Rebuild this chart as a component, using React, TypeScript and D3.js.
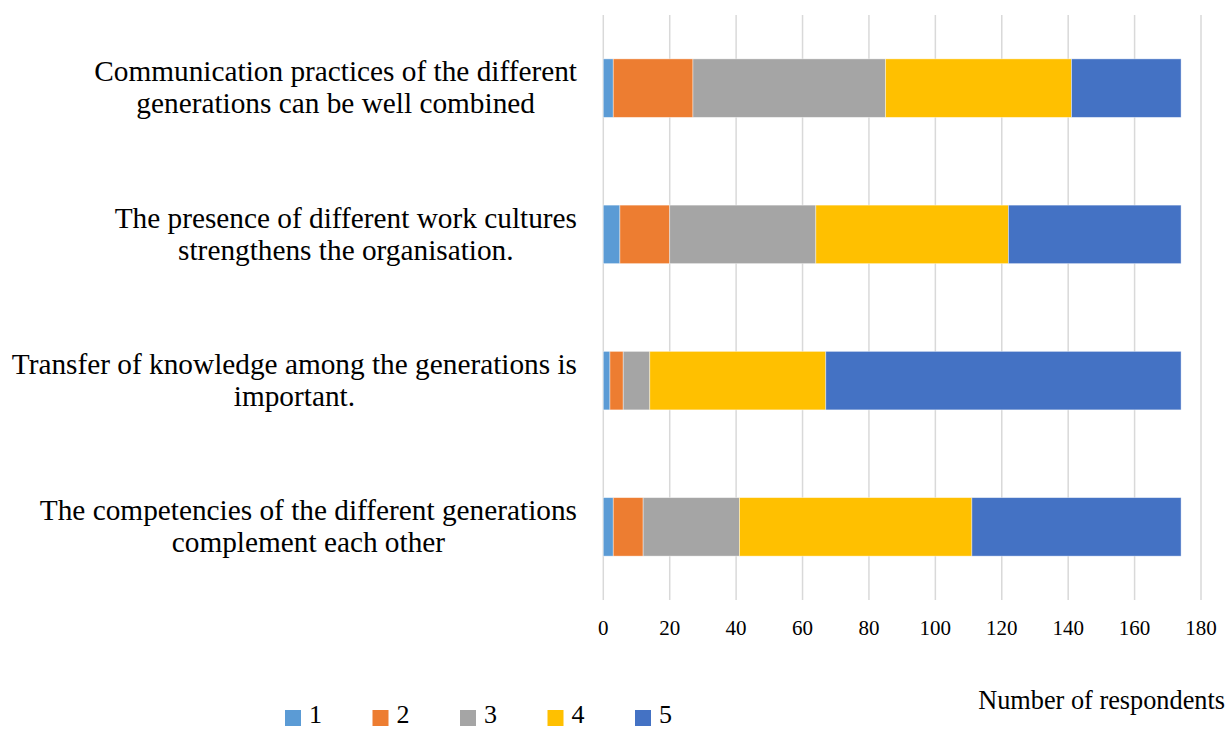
import React, { useEffect, useRef } from "react";
import * as d3 from "d3";

// statements, top to bottom; each entry is the wrapped lines of the label
const statements = [
  ["Communication practices of the different", "generations can be well combined"],
  ["The presence of different work cultures", "strengthens the organisation."],
  ["Transfer of knowledge among the generations is", "important."],
  ["The competencies of the different generations", "complement each other"],
];

const ratings = ["1", "2", "3", "4", "5"];

// respondents per rating, same order as statements
const rating1 = [3, 5, 2, 3];
const rating2 = [24, 15, 4, 9];
const rating3 = [58, 44, 8, 29];
const rating4 = [56, 58, 53, 70];
const rating5 = [33, 52, 107, 63];

const xTicks = [0, 20, 40, 60, 80, 100, 120, 140, 160, 180];
const axisTitle = "Number of respondents";

const colors = ["#5B9BD5", "#ED7D31", "#A5A5A5", "#FFC000", "#4472C4"];

export default function App() {
  const svgRef = useRef<SVGSVGElement>(null);

  useEffect(() => {
    const svg = d3.select(svgRef.current);
    svg.selectAll("*").remove();

    const font = "'Liberation Serif', 'Times New Roman', serif";
    const seriesValues = [rating1, rating2, rating3, rating4, rating5];
    const rows = statements.map((_, i) => {
      const row: any = { key: String(i) };
      ratings.forEach((r, j) => (row[r] = seriesValues[j][i]));
      return row;
    });
    const stacked = d3.stack().keys(ratings)(rows);

    const x = d3.scaleLinear().domain([0, 180]).range([603.3, 1201]);
    const y = d3
      .scaleBand()
      .domain(statements.map((_, i) => String(i)))
      .range([15, 600])
      .paddingInner(0.6)
      .paddingOuter(0.3);

    // --- GRIDLINES ---
    svg
      .append("g")
      .selectAll("line")
      .data(xTicks)
      .join("line")
      .attr("x1", (d) => x(d))
      .attr("x2", (d) => x(d))
      .attr("y1", 15)
      .attr("y2", 600)
      .attr("stroke", "#D9D9D9")
      .attr("stroke-width", 1.5);

    // --- BARS ---
    svg
      .append("g")
      .selectAll("g")
      .data(stacked)
      .join("g")
      .attr("fill", (_, i) => colors[i])
      .selectAll("rect")
      .data((s) => s.map((d, i) => ({ d, i })))
      .join("rect")
      .attr("x", (p) => x(p.d[0]))
      .attr("width", (p) => x(p.d[1]) - x(p.d[0]))
      .attr("y", (p) => y(String(p.i))!)
      .attr("height", y.bandwidth())
      .attr("stroke", "rgba(255,255,255,0.5)")
      .attr("stroke-width", 0.8);

    // --- TICK LABELS ---
    svg
      .append("g")
      .selectAll("text")
      .data(xTicks)
      .join("text")
      .attr("x", (d) => x(d))
      .attr("y", 628)
      .attr("dy", "0.35em")
      .attr("text-anchor", "middle")
      .style("font-family", font)
      .style("font-size", "21px")
      .style("fill", "#000")
      .text((d) => d);

    // --- CATEGORY LABELS (lines centred, block right-aligned) ---
    const labelRight = 577;
    const lineGap = 32;
    statements.forEach((lines, i) => {
      const cy = y(String(i))! + y.bandwidth() / 2;
      const g = svg.append("g");
      const texts = g
        .selectAll("text")
        .data(lines)
        .join("text")
        .attr("y", (_, k) => cy + (k - (lines.length - 1) / 2) * lineGap - 1)
        .attr("dy", "0.35em")
        .attr("text-anchor", "middle")
        .style("font-family", font)
        .style("font-size", "29.3px")
        .style("fill", "#000")
        .text((d) => d);
      let maxW = 0;
      texts.each(function () {
        maxW = Math.max(maxW, (this as SVGTextElement).getComputedTextLength());
      });
      texts.attr("x", labelRight - maxW / 2);
    });

    // --- AXIS TITLE ---
    svg
      .append("text")
      .attr("x", 1225)
      .attr("y", 700)
      .attr("dy", "0.35em")
      .attr("text-anchor", "end")
      .style("font-family", font)
      .style("font-size", "26.3px")
      .style("fill", "#000")
      .text(axisTitle);

    // --- LEGEND ---
    const legend = svg
      .append("g")
      .selectAll("g")
      .data(ratings)
      .join("g")
      .attr("transform", (_, i) => `translate(${285 + i * 87.5}, 0)`);
    legend
      .append("rect")
      .attr("x", 0)
      .attr("y", 710)
      .attr("width", 16)
      .attr("height", 16)
      .attr("fill", (_, i) => colors[i]);
    legend
      .append("text")
      .attr("x", 24)
      .attr("y", 723)
      .style("font-family", font)
      .style("font-size", "26px")
      .style("fill", "#000")
      .text((d) => d);
  }, []);

  return (
    <svg
      ref={svgRef}
      width={1228}
      height={729}
      style={{ position: "fixed", left: 0, top: 0, background: "#fff" }}
    ></svg>
  );
}
